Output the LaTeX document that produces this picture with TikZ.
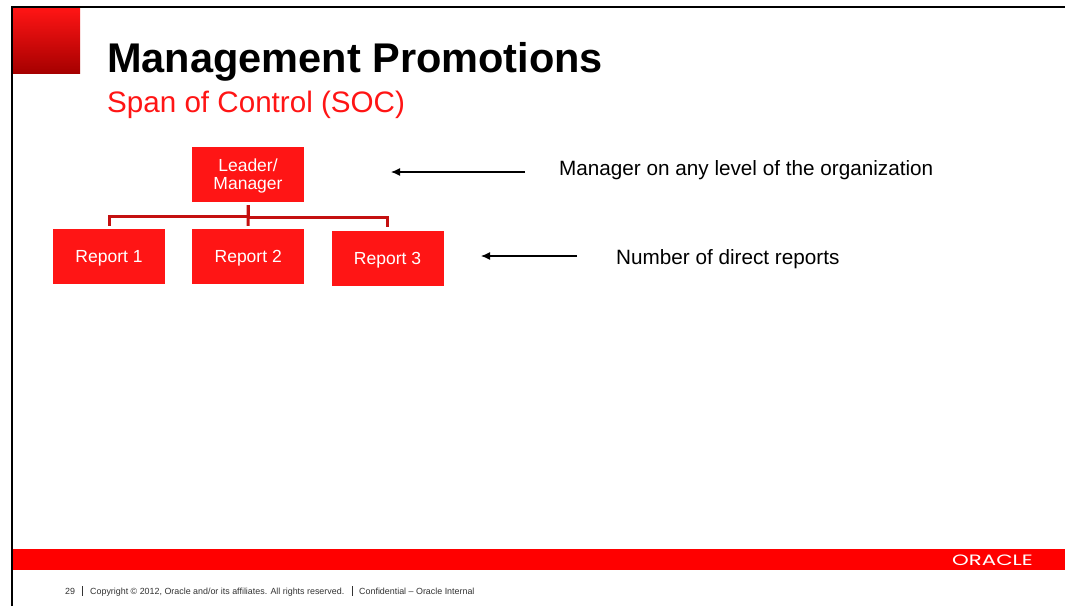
\documentclass[tikz,border=0pt]{standalone}
\usepackage{fontspec}
\usetikzlibrary{arrows.meta}
\setmainfont{Liberation Sans}
\newfontfamily\logofont{Poppins}
\definecolor{oraclered}{HTML}{FF0000}
\definecolor{boxred}{HTML}{FF1515}
\definecolor{linkred}{HTML}{C41010}
\tikzset{
  box/.style={fill=boxred, text=white, minimum width=112pt, minimum height=55pt, inner sep=0pt, align=center, text depth=0pt, font=\fontsize{17.5}{18}\selectfont},
  link/.style={color=linkred, line width=3pt, shorten <=3pt, shorten >=3pt},
  pointer/.style={-{Latex[length=9pt,width=8pt]}, line width=1.2pt},
  note/.style={anchor=west, inner sep=0pt, font=\fontsize{20.7}{24}\selectfont},
  foot/.style={anchor=base west, inner sep=0pt, color=black!80, font=\fontsize{8.9}{10}\selectfont}
}
\begin{document}
\begin{tikzpicture}[x=1pt, y=-1pt]
  \useasboundingbox (0,0) rectangle (1065,606);
  \fill[white] (0,0) rectangle (1065,606);
  \fill[top color=boxred, bottom color=red!65!black] (13,8) rectangle (80,73);
  \fill[oraclered] (13,549) rectangle (1065,570);
  \draw[line width=2.2pt] (11.7,606) -- (11.7,7) -- (1065,7);
  \node[anchor=west, inner sep=0pt, font=\fontsize{41.5}{44}\bfseries\selectfont] (title) at (107,62) {Management Promotions};
  \node[anchor=west, inner sep=0pt, color=boxred, font=\fontsize{29.6}{32}\selectfont] (subtitle) at (107,105) {Span of Control (SOC)};
  \node[box] (lead) at (248,174.5) {Leader/\\Manager};
  \node[box] (rep1) at (109,256.5) {Report 1};
  \node[box] (rep2) at (248.2,256.5) {Report 2};
  \node[box] (rep3) at (387.5,258) {Report 3};
  \draw[link] (lead.south) -- (rep2.north);
  \draw[link] (lead.south) -- ++(0,14.5) -| (rep1.north);
  \draw[link] (lead.south) -- ++(0,15.5) -| (rep3.north);
  \coordinate (leadtail) at (525,172);
  \coordinate (leadtip) at (391,172);
  \coordinate (reptail) at (577,256);
  \coordinate (reptip) at (481,256);
  \draw[pointer] (leadtail) -- (leadtip);
  \draw[pointer] (reptail) -- (reptip);
  \node[note] (leadnote) at (559,170) {Manager on any level of the organization};
  \node[note] (repnote) at (616,259.5) {Number of direct reports};
  \node[inner sep=0pt, text=white, transform shape, xscale=1.42, font=\logofont\fontsize{15}{16}\selectfont] (logo) at (992.5,560.5) {ORACLE};
  \node[foot] (page) at (65,594) {29};
  \node[foot] (copy) at (90,594) {Copyright © 2012, Oracle and/or its affiliates.  All rights reserved.};
  \node[foot] (conf) at (359,594) {Confidential – Oracle Internal};
  \draw[color=black!80, line width=0.6pt] (82,586) -- (82,596);
  \draw[color=black!80, line width=0.6pt] (352,586) -- (352,596);
\end{tikzpicture}
\end{document}
